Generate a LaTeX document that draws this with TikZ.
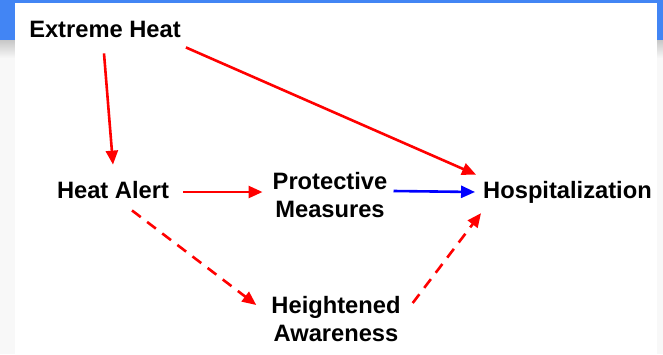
\documentclass[tikz,border=0pt]{standalone}
\usepackage{fontspec}
\setmainfont{Liberation Sans}
\usetikzlibrary{arrows.meta}
\definecolor{slideblue}{HTML}{4285F4}
\definecolor{slidegray}{HTML}{F8F8F8}

\begin{document}
\begin{tikzpicture}[x=1pt,y=-1pt,
  lbl/.style={anchor=base,align=center,inner sep=3pt,
    font=\fontsize{23.7}{27.5}\selectfont\bfseries},
  arr/.style={line width=2.6pt,-{Triangle[length=14pt,width=12pt]}},
  dasharr/.style={arr,dash pattern=on 11pt off 8pt}]
\useasboundingbox (0,0) rectangle (663,354);

% slide background
\fill[slidegray] (0,0) rectangle (663,354);
\fill[slideblue] (0,0) rectangle (663,40);
\shade[top color=black!22,bottom color=slidegray] (0,40) rectangle (663,58);
\fill[white] (15,3) rectangle (657,354);

% nodes (base = last line)
\node[lbl] (heat)  at (105,37)   {Extreme Heat};
\node[lbl] (alert) at (113,198)  {Heat Alert};
\node[lbl] (prot)  at (330,217)  {Protective\\Measures};
\node[lbl] (hosp)  at (567.5,198) {Hospitalization};
\node[lbl] (aware) at (336,341)  {Heightened\\Awareness};

% connectors
\draw[arr,red] ([shift={(-1,13)}]heat.south) -- ([shift={(0,-13)}]alert.north);
\draw[arr,red] ([shift={(2,7)}]heat.south east) -- ([shift={(-4,-3)}]hosp.north west);
\draw[arr,red] ([shift={(11,-6)}]alert.base east) -- ([shift={(-7,-25)}]prot.base west);
\draw[arr,blue] ([shift={(3,-26)}]prot.base east) -- ([shift={(-5,-6)}]hosp.base west);
\draw[dasharr,red] ([shift={(19,9)}]alert.south) -- ([shift={(-12,-36)}]aware.base west);
\draw[dasharr,red] ([shift={(9,-38)}]aware.base east) -- ([shift={(1,7)}]hosp.south west);
\end{tikzpicture}
\end{document}
